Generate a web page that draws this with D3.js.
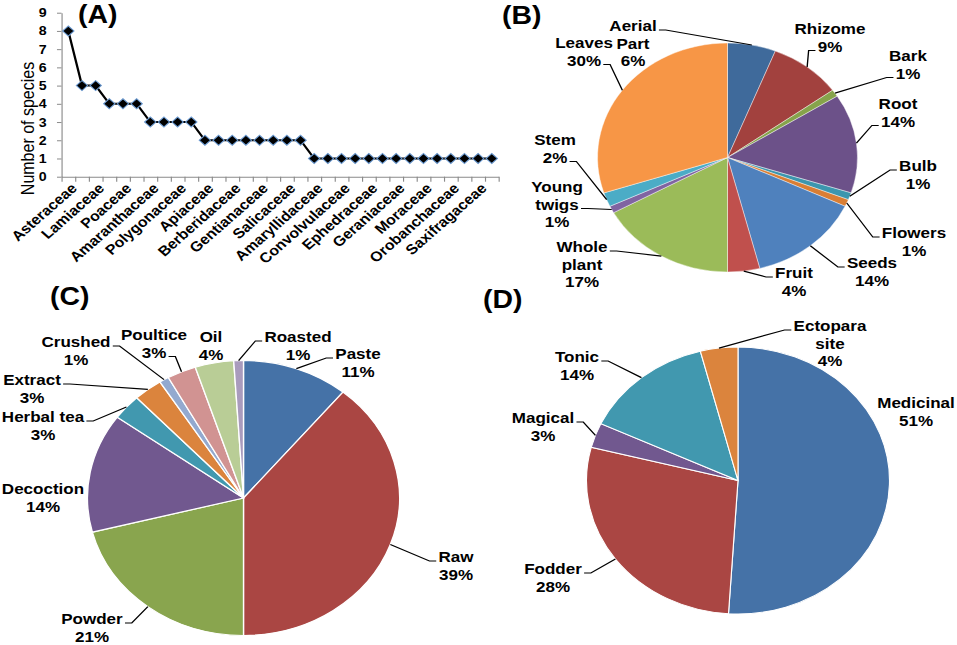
<!DOCTYPE html>
<html>
<head>
<meta charset="utf-8">
<script src="https://cdn.jsdelivr.net/npm/d3@7"></script>
<style>
  body { margin: 0; background: #fff; }
  svg { display: block; font-family: "Liberation Sans", Arial, sans-serif; }
</style>
</head>
<body>
<svg id="fig" width="957" height="645"></svg>
<script>
// ---- (A) number of species per family ----
const familyTicks = ["Asteraceae", "Lamiaceae", "Poaceae", "Amaranthaceae", "Polygonaceae",
  "Apiaceae", "Berberidaceae", "Gentianaceae", "Salicaceae", "Amaryllidaceae", "Convolvulaceae",
  "Ephedraceae", "Geraniaceae", "Moraceae", "Orobanchaceae", "Saxifragaceae"];
const speciesCount = [8, 5, 5, 4, 4, 4, 3, 3, 3, 3, 2, 2, 2, 2, 2, 2, 2, 2,
  1, 1, 1, 1, 1, 1, 1, 1, 1, 1, 1, 1, 1, 1];
const yTicks = [0, 1, 2, 3, 4, 5, 6, 7, 8, 9];

// ---- (B) plant parts used ----
const partNames = ["Aerial\nPart", "Rhizome", "Bark", "Root", "Bulb", "Flowers", "Seeds",
  "Fruit", "Whole\nplant", "Young\ntwigs", "Stem", "Leaves"];
const partPct = [6, 9, 1, 14, 1, 1, 14, 4, 17, 1, 2, 30];
const partColors = ["#3F6A9B", "#A2413E", "#86A34B", "#6C5189", "#3C96AE", "#D97E34",
  "#4F81BD", "#C0504D", "#9BBB59", "#8064A2", "#4BACC6", "#F79646"];

// ---- (C) mode of preparation ----
const prepNames = ["Paste", "Raw", "Powder", "Decoction", "Herbal tea", "Extract", "Crushed",
  "Poultice", "Oil", "Roasted"];
const prepPct = [11, 39, 21, 14, 3, 3, 1, 3, 4, 1];
const prepColors = ["#4572A7", "#AA4643", "#89A54E", "#71588F", "#4198AF", "#DB843D",
  "#93A9CF", "#D19392", "#B9CD96", "#A99BBD"];

// ---- (D) type of use ----
const useNames = ["Medicinal", "Fodder", "Magical", "Tonic", "Ectopara\nsite"];
const usePct = [51, 28, 3, 14, 4];
const useColors = ["#4572A7", "#AA4643", "#71588F", "#4198AF", "#DB843D"];

// label layout: [x, y of first line, line the leader hooks to (null = no leader)]
const partLabelAt = [[633, 26, 0], [830, 29, 1], [908, 56, 1], [898, 104, 1], [918, 166, 0],
  [914, 233, 0], [872, 263, 0], [794, 273, 0], [582, 247, 0], [557, 187, 1], [555, 140, 1],
  [584, 43, 1]];
const prepLabelAt = [[358, 354, 0], [456, 557, 0], [92, 619, 0], [43, 489, null],
  [43, 417, 0], [32, 380, 0], [76, 342, 0], [154, 335, 1], [211, 337, null], [298, 337, 0]];
const useLabelAt = [[916, 403, null], [553, 569, 0], [543, 418, 0], [577, 357, 0],
  [830, 326, 0]];

// the whole figure is slightly stretched sideways
const SX = 1.135;
const X = v => v / SX;
const LH = 17.5;

const svg = d3.select("#fig");
const root = svg.append("g").attr("transform", `scale(${SX},1)`);

// ================= panel A =================
const x0 = X(61.5), x1 = X(498.6), yBase = 176.7;
const xA = d3.scaleBand().domain(d3.range(speciesCount.length)).range([x0, x1]);
const xEdge = d3.scaleLinear().domain([0, speciesCount.length]).range([x0, x1]);
const yA = d3.scaleLinear().domain([0, 9]).range([yBase, 12.7]);

const gy = root.append("g").attr("transform", `translate(${x0},0)`)
  .call(d3.axisLeft(yA).tickValues(yTicks).tickSize(4).tickSizeOuter(0).tickPadding(9));
gy.select(".domain").attr("stroke", "#8a8a8a");
gy.selectAll(".tick line").attr("stroke", "#8a8a8a");
gy.selectAll(".tick text").attr("font-size", 12.5).attr("font-weight", "bold")
  .attr("fill", "#000").attr("font-family", "Liberation Sans, Arial, sans-serif");

const gx = root.append("g").attr("transform", `translate(0,${yBase})`)
  .call(d3.axisBottom(xEdge).tickValues(d3.range(speciesCount.length + 1))
    .tickFormat("").tickSize(5).tickSizeOuter(0));
gx.select(".domain").attr("stroke", "#8a8a8a");
gx.selectAll(".tick line").attr("stroke", "#8a8a8a");

root.append("g").selectAll("text")
  .data(familyTicks)
  .join("text")
  .attr("transform", (d, i) => `translate(${xA(i * 2) + xA.bandwidth() / 2 + 1},${yBase + 5}) rotate(-45)`)
  .attr("dy", "0.75em")
  .attr("text-anchor", "end")
  .attr("font-size", 14)
  .attr("font-weight", "bold")
  .text(d => d);

root.append("text")
  .attr("transform", `translate(${X(28)},${128.5}) rotate(-90)`)
  .attr("dy", "0.35em")
  .attr("text-anchor", "middle")
  .attr("font-size", 16)
  .text("Number of species");

const line = d3.line()
  .x((d, i) => xA(i) + xA.bandwidth() / 2)
  .y(d => yA(d));

root.append("path")
  .datum(speciesCount)
  .attr("d", line)
  .attr("fill", "none")
  .attr("stroke", "#000")
  .attr("stroke-width", 2);

const diamond = d3.symbol().type(d3.symbolSquare).size(50);
root.append("g").selectAll("path")
  .data(speciesCount)
  .join("path")
  .attr("d", diamond)
  .attr("transform", (d, i) => `translate(${xA(i) + xA.bandwidth() / 2},${yA(d)}) rotate(45)`)
  .attr("fill", "#000")
  .attr("stroke", "#6C9BD2")
  .attr("stroke-width", 1);

// ================= pies =================
function drawPie(p) {
  const cx = X(p.cx);
  const g = root.append("g").attr("transform", `translate(${cx},${p.cy})`);
  const arcs = d3.pie().sort(null).value(d => d)(p.values);
  const arc = d3.arc().innerRadius(0).outerRadius(p.r);
  const rim = d3.arc().innerRadius(p.r).outerRadius(p.r);

  g.selectAll("path")
    .data(arcs)
    .join("path")
    .attr("d", arc)
    .attr("fill", (d, i) => p.colors[i])
    .attr("stroke", "#fff")
    .attr("stroke-width", p.sw);

  arcs.forEach((a, i) => {
    const [lx, ly, hook] = p.at[i];
    const lines = p.names[i].split("\n").concat(p.values[i] + "%");
    const texts = lines.map((s, k) => root.append("text")
      .attr("x", X(lx))
      .attr("y", ly + k * LH)
      .attr("dy", "0.35em")
      .attr("text-anchor", "middle")
      .attr("font-size", 15)
      .attr("font-weight", "bold")
      .text(s));
    if (hook == null) return;
    const [ex, ey] = rim.centroid(a);
    const px = cx + ex, py = p.cy + ey;
    const w = texts[hook].node().getComputedTextLength();
    const dir = px > X(lx) ? 1 : -1;
    const sx0 = X(lx) + dir * (w / 2 + 2);
    const hy = ly + hook * LH + 4;
    root.append("path")
      .attr("d", `M${sx0},${hy}H${sx0 + dir * 6}L${px},${py}`)
      .attr("fill", "none")
      .attr("stroke", "#000")
      .attr("stroke-width", 1.2);
  });
}

drawPie({ cx: 727.5, cy: 157.5, r: 114.5, values: partPct, names: partNames,
  colors: partColors, at: partLabelAt, sw: 0.4 });
drawPie({ cx: 243.5, cy: 498, r: 137.5, values: prepPct, names: prepNames,
  colors: prepColors, at: prepLabelAt, sw: 1.2 });
drawPie({ cx: 738, cy: 480.5, r: 133.5, values: usePct, names: useNames,
  colors: useColors, at: useLabelAt, sw: 1 });

// panel letters
[["(A)", 78, 23], ["(B)", 502, 24], ["(C)", 50, 305], ["(D)", 483, 308]].forEach(([s, x, y]) => {
  root.append("text")
    .attr("x", X(x))
    .attr("y", y)
    .attr("font-size", 25)
    .attr("font-weight", "bold")
    .text(s);
});
</script>
</body>
</html>
